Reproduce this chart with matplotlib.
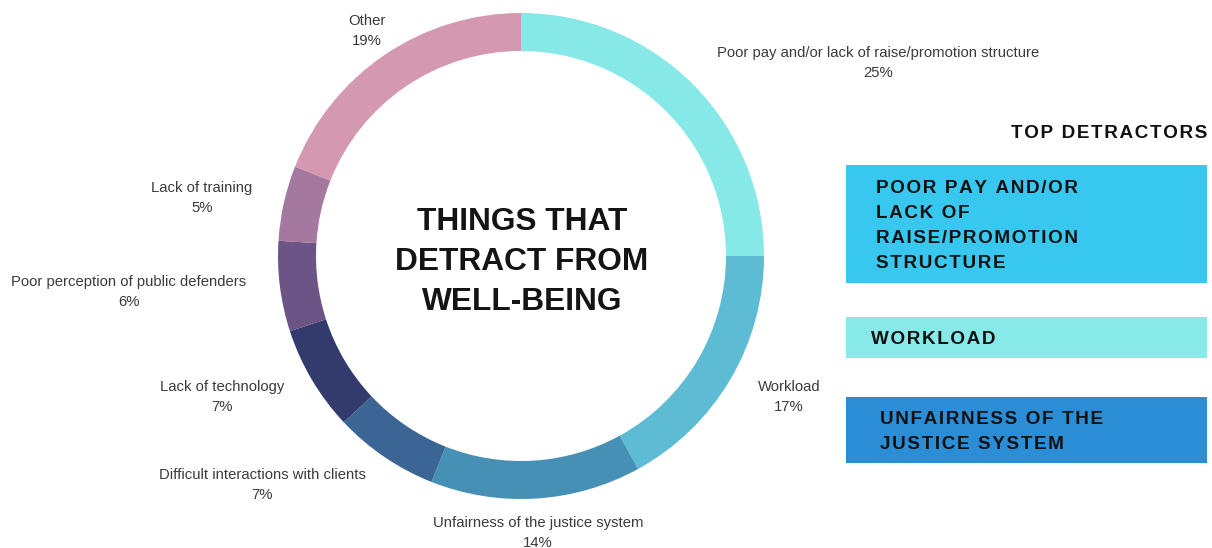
import matplotlib
matplotlib.use("Agg")
import matplotlib.pyplot as plt
from matplotlib.patches import Rectangle

plt.rcParams['font.family'] = ['Liberation Sans', 'DejaVu Sans']

# share of respondents naming each detractor, clockwise from 12 o'clock
categories = [
    "Poor pay and/or lack of raise/promotion structure",
    "Workload",
    "Unfairness of the justice system",
    "Difficult interactions with clients",
    "Lack of technology",
    "Poor perception of public defenders",
    "Lack of training",
    "Other",
]
shares = [25, 17, 14, 7, 7, 6, 5, 19]
colors = ["#87E8E8", "#5DBCD3", "#4690B6", "#3B6594", "#333B6C",
          "#6D5487", "#A5789F", "#D498B1"]

# label anchors (centre of the two-line label), in pixels from top-left
label_xy = [(878, 63), (789, 397), (538, 533), (262, 485),
            (222, 397), (129, 292), (202, 198), (367, 31)]

top_title = "TOP DETRACTORS"
top_items = [
    ("POOR PAY AND/OR\nLACK OF\nRAISE/PROMOTION\nSTRUCTURE", "#38C7EF", 165, 283, 876),
    ("WORKLOAD", "#87E9E8", 317, 358, 871),
    ("UNFAIRNESS OF THE\nJUSTICE SYSTEM", "#2B8DD5", 397, 463, 880),
]

W, H = 1212, 548


def spaced(s, gap="\u200a"):
    # widen tracking with hair spaces between letters
    return "\n".join(gap.join(line) for line in s.split("\n"))


fig = plt.figure(figsize=(W / 100, H / 100), dpi=100)
ax = fig.add_axes([0, 0, 1, 1])
ax.set_xlim(0, W)
ax.set_ylim(0, H)
ax.set_aspect('equal')
ax.axis('off')

cx, cy, r = 521, H - 256, 243
ax.pie(shares, colors=colors, startangle=90, counterclock=False,
       radius=r, center=(cx, cy),
       wedgeprops=dict(width=38, linewidth=0))
ax.set_xlim(0, W)
ax.set_ylim(0, H)

for name, val, (lx, ly) in zip(categories, shares, label_xy):
    ax.text(lx, H - ly, f"{name}\n{val}%", ha='center', va='center',
            fontsize=10.7, color="#3b3b3b", linespacing=1.6)

ax.text(cx + 1, H - 262, "THINGS THAT\nDETRACT FROM\nWELL-BEING",
        ha='center', va='center', fontsize=22.8, fontweight='bold',
        color="#141414", linespacing=1.43)

ax.text(1207, H - 134, spaced(top_title), ha='right', va='center',
        fontsize=13.6, fontweight='bold', color="#111111")

for text, col, y0, y1, tx in top_items:
    ax.add_patch(Rectangle((846, H - y1), 1207 - 846, y1 - y0,
                           facecolor=col, edgecolor='none'))
    ax.text(tx, H - (y0 + y1) / 2 - 2, spaced(text), ha='left', va='center',
            fontsize=13.6, fontweight='bold', color="#111111",
            linespacing=1.63)

fig.savefig("out.png", dpi=100, facecolor='white')
